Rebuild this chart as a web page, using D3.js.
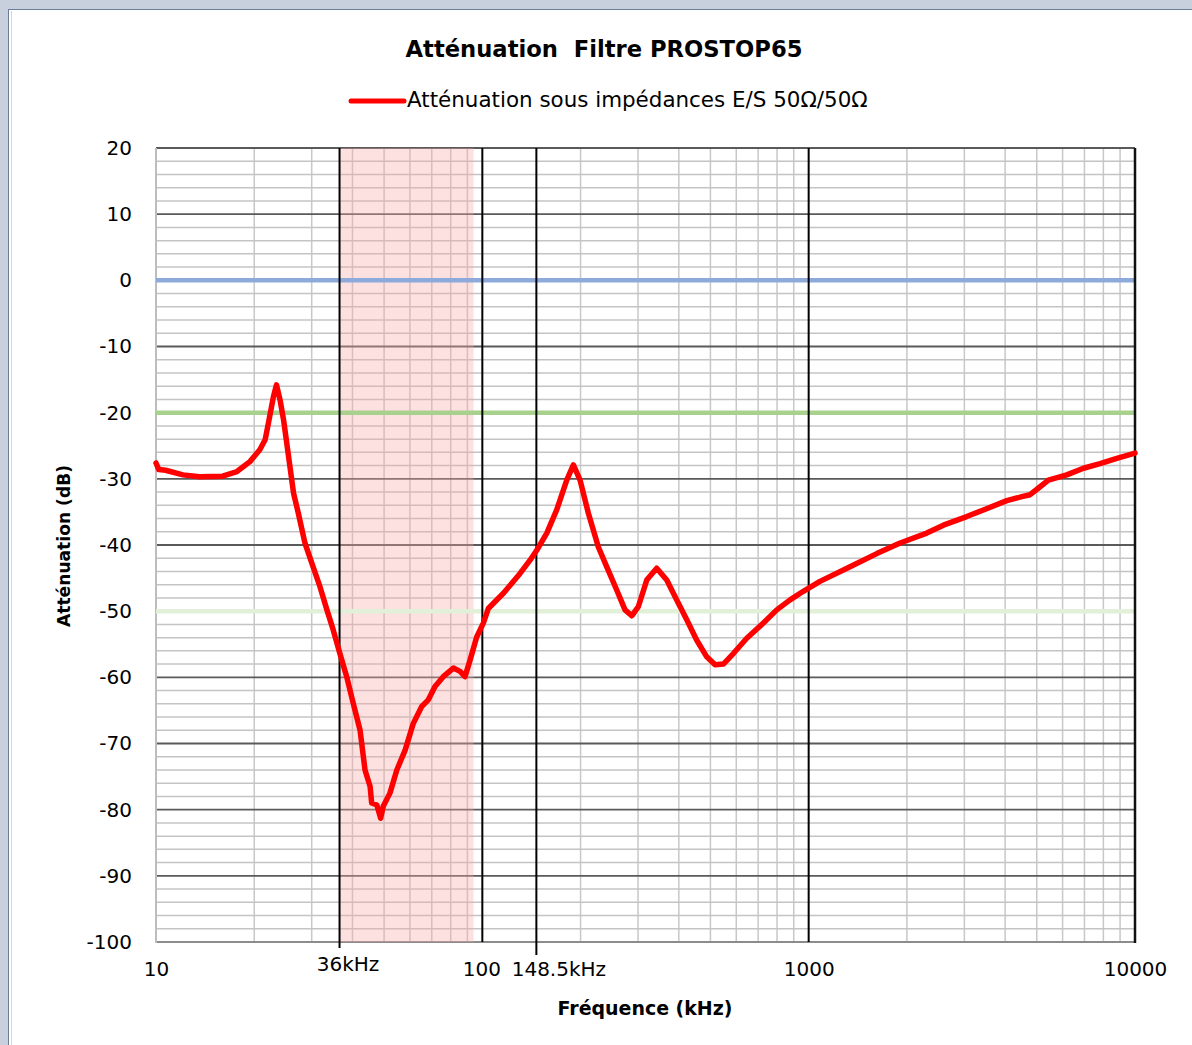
<!DOCTYPE html>
<html>
<head>
<meta charset="utf-8">
<script src="https://cdn.jsdelivr.net/npm/d3@7"></script>
<style>
  body { margin: 0; background: #c8d0dd; }
  svg { display: block; }
  text { font-family: "DejaVu Sans", Verdana, sans-serif; fill: #000; }
</style>
</head>
<body>
<svg></svg>
<script>
var width = 1192;
var height = 1045;

// frequency (kHz) and attenuation (dB)
var freqKHz = [10, 10.2, 10.7, 12.1, 13.6, 16.0, 17.7, 19.4, 20.8, 21.6, 22.1, 22.9, 23.4, 24.0, 24.6, 25.4,
  26.4, 27.3, 28.6, 30.3, 31.8, 33.4, 34.9, 36.6, 38.4, 40.2, 42.2, 43.7, 45.3, 45.8, 47.5, 48.8, 49.7,
  52.1, 54.7, 58.0, 61.4, 65.2, 68.3, 71.6, 75.9, 81.5, 85.5, 88.5, 91.7, 96.1, 100.7, 104.3,
  116, 130.5, 140, 146.8, 157.6, 169, 181.4, 190.1, 199.3, 211.3, 226.7, 240.6, 258.1, 273.7, 287, 300.7,
  319, 342.2, 367.4, 394.2, 423.1, 454, 487.2, 516.6, 547.8, 587.7, 646, 726.3, 798.4, 876.9, 963,
  1083, 1339, 1617, 1906, 2301, 2587, 3051, 3431, 4047, 4498, 4770, 5120, 5427, 6180, 6950, 7816, 8794, 10000];

var attenuationDb = [-27.6, -28.6, -28.7, -29.4, -29.7, -29.6, -28.9, -27.4, -25.6, -24.1, -21.6, -17.6, -15.8, -18.1, -21.1, -26.1,
  -32.2, -35.2, -39.7, -43.3, -46.3, -49.8, -52.8, -56.4, -59.9, -63.9, -68, -74, -76.5, -79, -79.3, -81.3, -79.5,
  -77.5, -74, -71, -67, -64.4, -63.4, -61.4, -59.9, -58.6, -59.1, -59.9, -57.4, -53.9, -51.8, -49.6,
  -47.3, -44.3, -42.3, -40.8, -38.2, -34.7, -30.2, -27.9, -30.2, -35.2, -40.3, -43.3, -46.8, -49.8, -50.7, -49.3,
  -45.3, -43.5, -45.3, -48.3, -51.3, -54.4, -56.9, -58.1, -58, -56.4, -54.1, -51.8, -49.8, -48.3, -47,
  -45.5, -43.3, -41.3, -39.7, -38.2, -37, -35.7, -34.7, -33.3, -32.7, -32.4, -31.2, -30.2, -29.4, -28.4, -27.7, -26.9, -26.1];

var xTickValues = [10, 36, 100, 148.5, 1000, 10000];
var xTickLabels = ["10", "36kHz", "100", "148.5kHz", "1000", "10000"];
var yTickValues = [20, 10, 0, -10, -20, -30, -40, -50, -60, -70, -80, -90, -100];
var markerFreqs = [36, 100, 148.5, 1000];
var bandKHz = [36, 94];
var refLevels = [0, -20, -50];
var refColors = ["#8eaadb", "#a9d18e", "#e2efd9"];

var plotLeft = 156, plotRight = 1135, plotTop = 148, plotBottom = 942;

var svg = d3.select("svg").attr("width", width).attr("height", height);

// window frame
svg.append("rect").attr("width", width).attr("height", height).attr("fill", "#c8d0dd");
svg.append("rect").attr("x", 9).attr("y", 9).attr("width", width - 9).attr("height", height - 9)
    .attr("fill", "#fff");
svg.append("line").attr("x1", 8.5).attr("x2", 8.5).attr("y1", 9).attr("y2", height)
    .attr("stroke", "#6a7d99").attr("stroke-width", 1);
svg.append("line").attr("x1", 8).attr("x2", width).attr("y1", 9.5).attr("y2", 9.5)
    .attr("stroke", "#6a7d99").attr("stroke-width", 1);
svg.append("line").attr("x1", 11.5).attr("x2", 11.5).attr("y1", 11).attr("y2", height)
    .attr("stroke", "#d6d6d6").attr("stroke-width", 1);

var xScale = d3.scaleLog().domain([10, 10000]).range([plotLeft, plotRight]);
var yScale = d3.scaleLinear().domain([-100, 20]).range([plotBottom, plotTop]);

// minor grid
var minorX = [];
[10, 100, 1000].forEach(function(d) {
  for (var k = 2; k <= 9; k++) minorX.push(d * k);
});
var minorY = d3.range(-100, 21, 2).filter(function(v) { return v % 10 !== 0; });

var grid = svg.append("g");
grid.selectAll(".vminor").data(minorX).enter().append("line")
    .attr("x1", d => xScale(d)).attr("x2", d => xScale(d))
    .attr("y1", plotTop).attr("y2", plotBottom)
    .attr("stroke", "#c8c8c8").attr("stroke-width", 1.5);
grid.selectAll(".hminor").data(minorY).enter().append("line")
    .attr("x1", plotLeft).attr("x2", plotRight)
    .attr("y1", d => yScale(d)).attr("y2", d => yScale(d))
    .attr("stroke", "#c4c4c4").attr("stroke-width", 1.5);
grid.selectAll(".hmajor").data(yTickValues).enter().append("line")
    .attr("x1", plotLeft).attr("x2", plotRight)
    .attr("y1", d => yScale(d)).attr("y2", d => yScale(d))
    .attr("stroke", d => d === -100 ? "#8c8c8c" : "#5a5a5a").attr("stroke-width", 1.8);

// left axis line
svg.append("line").attr("x1", plotLeft).attr("x2", plotLeft).attr("y1", plotTop).attr("y2", plotBottom + 1)
    .attr("stroke", "#bdbdbd").attr("stroke-width", 2);

// shaded band
svg.append("rect")
    .attr("x", xScale(bandKHz[0]) + 2).attr("y", plotTop)
    .attr("width", xScale(bandKHz[1]) - xScale(bandKHz[0]) - 2)
    .attr("height", plotBottom - plotTop)
    .attr("fill", "#f9a8a8").attr("fill-opacity", 0.35);

// reference levels
svg.selectAll(".ref").data(refLevels).enter().append("line")
    .attr("x1", plotLeft).attr("x2", plotRight)
    .attr("y1", d => yScale(d)).attr("y2", d => yScale(d))
    .attr("stroke", (d, i) => refColors[i]).attr("stroke-width", 4.5);

// marker lines
var markerDx = { 36: 2, 148.5: -2 };
svg.selectAll(".marker").data(markerFreqs).enter().append("line")
    .attr("x1", d => xScale(d) + (markerDx[d] || 0)).attr("x2", d => xScale(d) + (markerDx[d] || 0))
    .attr("y1", plotTop)
    .attr("y2", d => d === 36 ? plotBottom + 6 : d === 148.5 ? plotBottom + 13 : plotBottom)
    .attr("stroke", "#000").attr("stroke-width", 2);

// right border
svg.append("line").attr("x1", plotRight).attr("x2", plotRight).attr("y1", plotTop).attr("y2", plotBottom + 1)
    .attr("stroke", "#111").attr("stroke-width", 2.5);

// curve
var points = freqKHz.map((f, i) => [f, attenuationDb[i]]);
var line = d3.line().x(d => xScale(d[0])).y(d => yScale(d[1]));
svg.append("path").datum(points)
    .attr("d", line)
    .attr("fill", "none").attr("stroke", "#ff0000").attr("stroke-width", 5.5)
    .attr("stroke-linejoin", "round").attr("stroke-linecap", "round");

// axes labels
var yAxis = d3.axisLeft(yScale).tickValues(yTickValues)
    .tickFormat(d => String(d)).tickSize(0).tickPadding(0);
var gy = svg.append("g").attr("transform", "translate(132,0)").call(yAxis);
gy.select(".domain").remove();
gy.selectAll("text").attr("font-family", "DejaVu Sans").attr("font-size", 20).attr("fill", "#000");

var labelDx = { 36: 10, 100: -1, 148.5: 20 };
var labelDy = { 36: -5 };
var xAxis = d3.axisBottom(xScale).tickValues(xTickValues)
    .tickFormat((d, i) => xTickLabels[i]).tickSize(0).tickPadding(0);
var gx = svg.append("g").attr("transform", "translate(0,962)").call(xAxis);
gx.select(".domain").remove();
gx.selectAll("text").attr("font-family", "DejaVu Sans").attr("font-size", 20).attr("fill", "#000")
    .attr("dy", "0.71em")
    .attr("x", d => labelDx[d] || 0)
    .attr("y", d => labelDy[d] || 0);

function fitText(sel, w) {
  var len = sel.node().getComputedTextLength();
  var fs = parseFloat(sel.attr("font-size"));
  sel.attr("font-size", fs * w / len);
}

// title
var title = svg.append("text")
    .attr("x", 604).attr("y", 57)
    .attr("text-anchor", "middle")
    .attr("font-weight", "bold").attr("font-size", 20)
    .attr("xml:space", "preserve")
    .text("Atténuation  Filtre PROSTOP65");
fitText(title, 397);

// legend
svg.append("line").attr("x1", 351).attr("x2", 404).attr("y1", 101).attr("y2", 101)
    .attr("stroke", "#ff0000").attr("stroke-width", 5).attr("stroke-linecap", "round");
var leg = svg.append("text")
    .attr("x", 407).attr("y", 107)
    .attr("font-size", 18)
    .text("Atténuation sous impédances E/S 50Ω/50Ω");
fitText(leg, 461);

var xt = svg.append("text")
    .attr("x", 645).attr("y", 1015)
    .attr("text-anchor", "middle")
    .attr("font-weight", "bold").attr("font-size", 18)
    .text("Fréquence (kHz)");
fitText(xt, 175);

var yt = svg.append("text")
    .attr("transform", "translate(70,546) rotate(-90)")
    .attr("text-anchor", "middle")
    .attr("font-weight", "bold").attr("font-size", 18)
    .text("Atténuation (dB)");
fitText(yt, 162);
</script>
</body>
</html>
